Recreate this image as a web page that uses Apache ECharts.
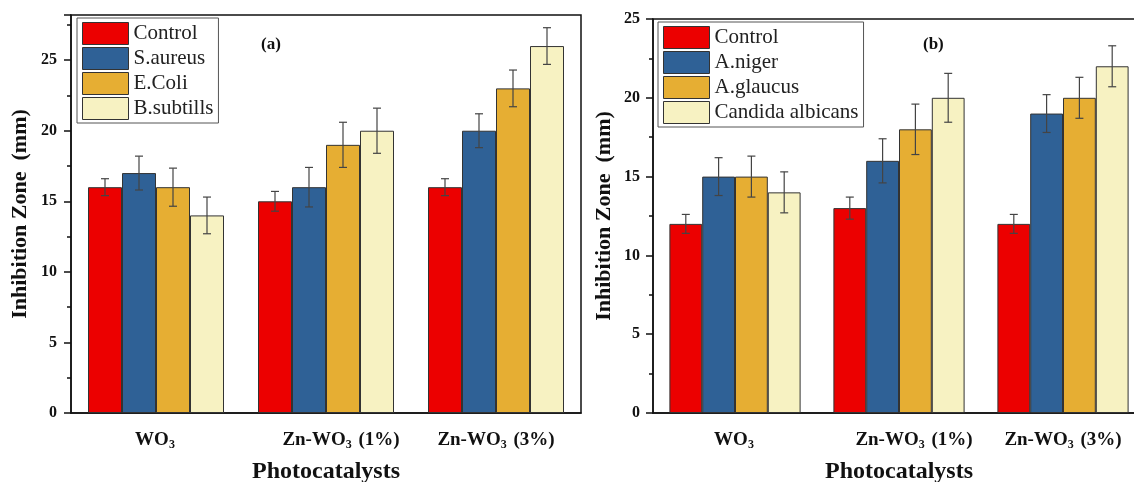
<!DOCTYPE html>
<html>
<head>
<meta charset="utf-8">
<script src="https://cdn.jsdelivr.net/npm/echarts@6/dist/echarts.min.js"></script>
<style>
  html, body { margin: 0; padding: 0; background: #fff; }
  #chart { width: 1134px; height: 482px; }
</style>
</head>
<body>
<div id="chart"></div>
<script>
// categories on both panels
const categories = ['WO3', 'Zn-WO3 (1%)', 'Zn-WO3 (3%)']

// panel (a) - bacteria
const bacteriaNames = ['Control', 'S.aureus', 'E.Coli', 'B.subtills']
const bacteriaValues = [
  [16, 15, 16],
  [17, 16, 20],
  [16, 19, 23],
  [14, 20, 26]
]
const bacteriaErrors = [
  [0.6, 0.7, 0.6],
  [1.2, 1.4, 1.2],
  [1.35, 1.6, 1.3],
  [1.3, 1.6, 1.3]
]

// panel (b) - fungi
const fungiNames = ['Control', 'A.niger', 'A.glaucus', 'Candida albicans']
const fungiValues = [
  [12, 13, 12],
  [15, 16, 19],
  [15, 18, 20],
  [14, 20, 22]
]
const fungiErrors = [
  [0.6, 0.7, 0.6],
  [1.2, 1.4, 1.2],
  [1.3, 1.6, 1.3],
  [1.3, 1.55, 1.3]
]

const colors = ['#ec0000', '#2f6196', '#e6ae33', '#f7f2c2']
const serif = '"Liberation Serif", "DejaVu Serif", serif'
const ink = '#111'

function labelFmt(v) {
  const p = v.split('WO3')
  return '{t|' + p[0] + 'WO}{s|3}' + (p[1] ? '{t|' + p[1] + '}' : '')
}

function barSeries(names, values, axis) {
  return names.map((name, k) => ({
    name: name,
    type: 'bar',
    xAxisIndex: axis * 2,
    yAxisIndex: axis,
    barGap: '0%',
    barCategoryGap: '20%',
    itemStyle: { color: colors[k], borderColor: '#333', borderWidth: 1 },
    data: values[k]
  }))
}

function errorSeries(names, values, errors, axis) {
  return names.map((name, k) => ({
    name: name + ' err',
    type: 'custom',
    xAxisIndex: axis * 2,
    yAxisIndex: axis,
    z: 5,
    silent: true,
    data: values[k].map((v, i) => [i, v - errors[k][i], v + errors[k][i]]),
    renderItem(params, api) {
      const c = api.value(0)
      const hi = api.coord([c, api.value(2)])
      const lo = api.coord([c, api.value(1)])
      const bw = api.size([1, 0])[0] * 0.8 / names.length
      const x = hi[0] + (k - (names.length - 1) / 2) * bw
      const w = 4
      const style = { stroke: '#444', lineWidth: 1.2 }
      return {
        type: 'group',
        children: [
          { type: 'line', shape: { x1: x, y1: hi[1], x2: x, y2: lo[1] }, style: style },
          { type: 'line', shape: { x1: x - w, y1: hi[1], x2: x + w, y2: hi[1] }, style: style },
          { type: 'line', shape: { x1: x - w, y1: lo[1], x2: x + w, y2: lo[1] }, style: style }
        ]
      }
    }
  }))
}

function xAxes(grid) {
  return [{
    type: 'category',
    gridIndex: grid,
    // middle label sits a bit right of its tick in the original
    data: categories.map((c, i) => i === 1 ? { value: c, textStyle: { padding: [0, 0, 0, 30] } } : c),
    name: 'Photocatalysts',
    nameLocation: 'middle',
    nameGap: 47,
    nameTextStyle: { fontFamily: serif, fontWeight: 'bold', fontSize: 24, color: ink },
    axisLine: { lineStyle: { color: ink, width: 1.5 } },
    axisTick: { alignWithLabel: true, length: 7, lineStyle: { color: ink, width: 1.5 } },
    axisLabel: {
      margin: 16,
      formatter: labelFmt,
      rich: {
        t: { fontFamily: serif, fontWeight: 'bold', fontSize: 19, color: ink },
        s: { fontFamily: serif, fontWeight: 'bold', fontSize: 12, color: ink, padding: [10, 2, 0, 0] }
      }
    }
  }, {
    type: 'category',
    gridIndex: grid,
    data: categories,
    position: 'bottom',
    axisLine: { show: false },
    axisTick: { length: 3, lineStyle: { color: ink, width: 1.5 } },
    axisLabel: { show: false }
  }]
}

function yAxis(grid, max, gap, margin) {
  return {
    type: 'value',
    gridIndex: grid,
    min: 0,
    max: max,
    interval: 5,
    name: 'Inhibition Zone  (mm)',
    nameLocation: 'middle',
    nameGap: gap,
    nameTextStyle: { fontFamily: serif, fontWeight: 'bold', fontSize: 22, color: ink },
    axisLine: { show: true, lineStyle: { color: ink, width: 1.5 } },
    axisTick: { show: true, length: 7, lineStyle: { color: ink, width: 1.5 } },
    minorTick: { show: true, splitNumber: 2, length: 4, lineStyle: { color: ink, width: 1.5 } },
    splitLine: { show: false },
    axisLabel: { margin: margin, showMaxLabel: max % 5 === 0, fontFamily: serif, fontWeight: 'bold', fontSize: 16, color: ink }
  }
}

function legend(names, left, top) {
  return {
    data: names,
    orient: 'vertical',
    left: left,
    top: top,
    padding: [4, 5, 3, 5],
    itemWidth: 46,
    itemHeight: 22,
    itemGap: 2,
    icon: 'rect',
    borderColor: '#555',
    borderWidth: 1,
    backgroundColor: '#fff',
    itemStyle: { borderColor: '#333', borderWidth: 1 },
    textStyle: { fontFamily: serif, fontSize: 21, color: '#222' }
  }
}

const chart = echarts.init(document.getElementById('chart'))
chart.setOption({
  animation: false,
  backgroundColor: '#fff',
  title: [
    { text: '(a)', left: 256, top: 31, textStyle: { fontFamily: serif, fontWeight: 'bold', fontSize: 17, color: ink } },
    { text: '(b)', left: 918, top: 31, textStyle: { fontFamily: serif, fontWeight: 'bold', fontSize: 17, color: ink } }
  ],
  grid: [
    { left: 71, width: 510, top: 15, bottom: 69, outerBoundsMode: 'none', containLabel: false, show: true, borderColor: ink, borderWidth: 1.5 },
    { left: 653, width: 492, top: 19, bottom: 69, outerBoundsMode: 'none', containLabel: false, show: true, borderColor: ink, borderWidth: 1.5 }
  ],
  legend: [legend(bacteriaNames, 77, 18), legend(fungiNames, 658, 22)],
  xAxis: [...xAxes(0), ...xAxes(1)],
  yAxis: [yAxis(0, 28.2, 40, 14), yAxis(1, 25, 38, 13)],
  series: [
    ...barSeries(bacteriaNames, bacteriaValues, 0),
    ...errorSeries(bacteriaNames, bacteriaValues, bacteriaErrors, 0),
    ...barSeries(fungiNames, fungiValues, 1),
    ...errorSeries(fungiNames, fungiValues, fungiErrors, 1)
  ]
})
</script>
</body>
</html>
